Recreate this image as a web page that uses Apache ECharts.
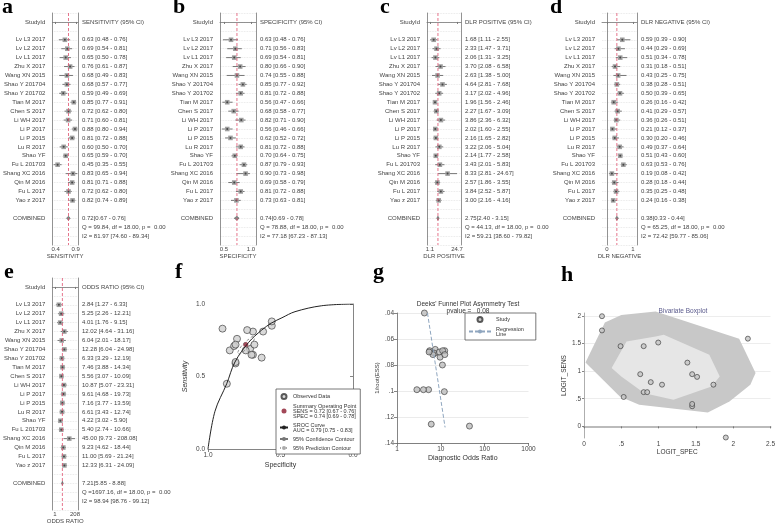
<!DOCTYPE html>
<html>
<head>
<meta charset="utf-8">
<script src="https://cdn.jsdelivr.net/npm/echarts@6.0.0/dist/echarts.min.js"></script>
<style>html,body{margin:0;padding:0;background:#fff}#chart{width:778px;height:529px}</style>
</head>
<body>
<div id="chart"></div>
<script>
// studies, same order in every forest plot
var studies = ['Lv L3 2017','Lv L2 2017','Lv L1 2017','Zhu X 2017','Wang XN 2015','Shao Y 201704','Shao Y 201702','Tian M 2017','Chen S 2017','Li WH 2017','Li P 2017','Li P 2015','Lu R 2017','Shao YF','Fu L 201703','Shang XC 2016','Qin M 2016','Fu L 2017','Yao z 2017'];

var sensEst = [0.63,0.69,0.65,0.76,0.68,0.68,0.59,0.85,0.72,0.71,0.88,0.81,0.60,0.65,0.45,0.83,0.81,0.72,0.82];
var sensLo  = [0.48,0.54,0.50,0.61,0.49,0.57,0.49,0.77,0.62,0.60,0.80,0.72,0.50,0.59,0.35,0.65,0.71,0.62,0.74];
var sensHi  = [0.76,0.81,0.78,0.87,0.83,0.77,0.69,0.91,0.80,0.81,0.94,0.88,0.70,0.70,0.55,0.94,0.88,0.80,0.89];

var specEst = [0.63,0.71,0.69,0.80,0.74,0.85,0.81,0.56,0.68,0.82,0.56,0.62,0.81,0.70,0.87,0.90,0.69,0.81,0.73];
var specLo  = [0.48,0.56,0.54,0.66,0.55,0.77,0.72,0.47,0.58,0.71,0.46,0.52,0.72,0.64,0.79,0.73,0.58,0.72,0.63];
var specHi  = [0.76,0.83,0.81,0.90,0.88,0.92,0.88,0.66,0.77,0.90,0.66,0.72,0.88,0.75,0.93,0.98,0.79,0.88,0.81];

var plrEst = [1.68,2.33,2.06,3.70,2.63,4.64,3.17,1.96,2.27,3.86,2.02,2.16,3.22,2.14,3.43,8.33,2.57,3.84,3.00];
var plrLo  = [1.11,1.47,1.31,2.08,1.38,2.81,2.02,1.56,1.67,2.36,1.60,1.65,2.06,1.77,2.01,2.81,1.86,2.52,2.16];
var plrHi  = [2.55,3.71,3.25,6.58,5.00,7.68,4.96,2.46,3.09,6.32,2.55,2.82,5.04,2.58,5.83,24.67,3.55,5.87,4.16];

var nlrEst = [0.59,0.44,0.51,0.31,0.43,0.38,0.50,0.26,0.41,0.36,0.21,0.30,0.49,0.51,0.63,0.19,0.28,0.35,0.24];
var nlrLo  = [0.39,0.29,0.34,0.18,0.25,0.28,0.39,0.16,0.29,0.26,0.12,0.20,0.37,0.43,0.53,0.08,0.18,0.25,0.16];
var nlrHi  = [0.90,0.69,0.78,0.51,0.75,0.51,0.65,0.42,0.57,0.51,0.37,0.46,0.64,0.60,0.76,0.42,0.44,0.48,0.38];

var dorEst = [2.84,5.25,4.01,12.02,6.04,12.28,6.33,7.46,5.56,10.87,9.61,7.16,6.61,4.22,5.40,45.00,9.23,11.00,12.33];
var dorLo  = [1.27,2.26,1.76,4.64,2.01,6.04,3.29,3.88,3.07,5.07,4.68,3.77,3.43,3.02,2.74,9.73,4.62,5.69,6.31];
var dorHi  = [6.33,12.21,9.15,31.16,18.17,24.98,12.19,14.34,10.09,23.31,19.73,13.59,12.74,5.90,10.66,208.08,18.44,21.24,24.09];

// pooled estimate [est, lo, hi] and heterogeneity lines
var pooledSens = [0.72,0.67,0.76], hetSens = ['Q = 99.84, df = 18.00, p =  0.00','I2 = 81.97 [74.60 - 89.34]'];
var pooledSpec = [0.74,0.69,0.78], hetSpec = ['Q = 78.88, df = 18.00, p =  0.00','I2 = 77.18 [67.23 - 87.13]'];
var pooledPlr  = [2.75,2.40,3.15], hetPlr  = ['Q = 44.13, df = 18.00, p =  0.00','I2 = 59.21 [38.60 - 79.82]'];
var pooledNlr  = [0.38,0.33,0.44], hetNlr  = ['Q = 65.25, df = 18.00, p =  0.00','I2 = 72.42 [59.77 - 85.06]'];
var pooledDor  = [7.21,5.85,8.88], hetDor  = ['Q =1697.16, df = 18.00, p =  0.00','I2 = 98.94 [98.76 - 99.12]'];

// SROC curve: [specificity, sensitivity]
var srocCurve = [[1.0,0.0],[0.952,0.26],[0.871,0.45],[0.814,0.60],[0.72,0.735],[0.63,0.82],[0.56,0.87],[0.49,0.905],[0.40,0.947],[0.216,0.988],[0.0,1.0]];
var summaryPoint = [0.74, 0.72];
var confContour = [[0.795,0.665],[0.78,0.695],[0.75,0.73],[0.715,0.76],[0.69,0.775],[0.68,0.765],[0.695,0.735],[0.725,0.70],[0.76,0.67],[0.785,0.655],[0.795,0.665]];

// Deeks funnel: 1/root(ESS) per study, regression line ends
var essInv = [0.099,0.099,0.099,0.1005,0.1255,0.069,0.070,0.068,0.069,0.080,0.074,0.071,0.072,0.040,0.070,0.127,0.070,0.069,0.072];
var regLine = [[4.96,0.04],[12.5,0.128]];

// bivariate boxplot
var logitSens = [0.532,0.800,0.619,1.153,0.754,0.754,0.364,1.735,0.944,0.895,1.992,1.450,0.405,0.619,-0.201,1.586,1.450,0.944,1.516];
var logitSpec = [0.532,0.895,0.800,1.386,1.046,1.735,1.450,0.241,0.754,1.516,0.241,0.490,1.450,0.847,1.901,2.197,0.800,1.450,0.995];
var outerHull = [[0.02,1.155],[0.28,1.877],[0.5,2.016],[0.96,2.076],[2.08,1.583],[2.30,0.964],[2.23,0.753],[1.95,0.45],[1.66,0.253],[0.74,0.392],[0.48,0.54]];
var innerHull = [[0.37,1.054],[0.57,1.534],[0.96,1.625],[1.07,1.655],[1.68,1.294],[1.82,0.90],[1.71,0.72],[1.20,0.48],[0.81,0.60],[0.5,0.90]];

var FONT = 'Liberation Sans';
var grids = [], xAxes = [], yAxes = [], series = [];

function f2(v) { return v.toFixed(2); }

function addForest(c) {
    var g = grids.length;
    grids.push({left: c.left, top: c.top + 13, width: c.right - c.left, height: 232});
    var leftText = {0: 'StudyId', 22: 'COMBINED'};
    var rightText = {0: c.header + ' (95% CI)'};
    studies.forEach(function (s, i) {
        leftText[i + 2] = s;
        rightText[i + 2] = f2(c.est[i]) + ' [' + f2(c.lo[i]) + ' - ' + f2(c.hi[i]) + ']';
    });
    rightText[22] = f2(c.pooled[0]) + '[' + f2(c.pooled[1]) + ' - ' + f2(c.pooled[2]) + ']';
    rightText[23] = c.het[0];
    rightText[24] = c.het[1];

    xAxes.push({
        gridIndex: g, type: c.log ? 'log' : 'value', min: c.min, max: c.max,
        axisLine: {show: true, lineStyle: {color: '#777', width: 0.8}},
        axisTick: {show: true, customValues: c.ticks, length: 2, lineStyle: {color: '#777'}},
        axisLabel: {customValues: c.ticks, fontSize: 6, margin: 1, color: '#444', fontFamily: FONT, formatter: c.fmt},
        splitLine: {show: false},
        name: c.header, nameLocation: 'middle', nameGap: 8,
        nameTextStyle: {fontSize: 6, color: '#444', fontFamily: FONT}
    });
    var yl = yAxes.length;
    var common = {gridIndex: g, type: 'value', min: -1, max: 25, interval: 1, inverse: true,
        axisLine: {show: true, lineStyle: {color: '#777', width: 0.8}}, axisTick: {show: false}};
    yAxes.push(Object.assign({}, common, {
        position: 'left',
        splitLine: {show: true, lineStyle: {color: '#e2e2e2', type: 'dotted', width: 0.8}},
        axisLabel: {margin: 7, fontSize: 6, color: '#444', fontFamily: FONT,
            formatter: function (v) { return leftText[Math.round(v)] || ''; }}
    }));
    yAxes.push(Object.assign({}, common, {
        position: 'right', splitLine: {show: false},
        axisLabel: {margin: 4, fontSize: 6, color: '#444', fontFamily: FONT,
            formatter: function (v) { return rightText[Math.round(v)] || ''; }}
    }));

    var rows = c.est.map(function (e, i) { return [e, c.lo[i], c.hi[i], i + 2]; });
    series.push({
        type: 'custom', xAxisIndex: g, yAxisIndex: yl, data: rows, encode: {x: [0, 1, 2], y: 3},
        renderItem: function (params, api) {
            var y = api.value(3);
            var p = api.coord([api.value(0), y]);
            var a = api.coord([api.value(1), y]);
            var b = api.coord([api.value(2), y]);
            return {type: 'group', children: [
                {type: 'line', shape: {x1: a[0], y1: a[1], x2: b[0], y2: b[1]}, style: {stroke: '#555', lineWidth: 0.8}},
                {type: 'rect', shape: {x: p[0] - 2.3, y: p[1] - 2.3, width: 4.6, height: 4.6}, style: {fill: '#a0a0a0'}},
                {type: 'circle', shape: {cx: p[0], cy: p[1], r: 1}, style: {fill: '#444'}}
            ]};
        }
    });
    series.push({
        type: 'custom', xAxisIndex: g, yAxisIndex: yl, data: [[c.pooled[0], c.pooled[1], c.pooled[2], 22]], encode: {x: [0, 1, 2], y: 3},
        renderItem: function (params, api) {
            var y = api.value(3);
            var p = api.coord([api.value(0), y]);
            var a = api.coord([api.value(1), y]);
            var b = api.coord([api.value(2), y]);
            return {type: 'polygon', shape: {points: [[a[0], p[1]], [p[0], p[1] - 2], [b[0], p[1]], [p[0], p[1] + 2]]},
                style: {fill: '#888', stroke: '#555', lineWidth: 0.6}};
        }
    });
    series.push({
        type: 'line', xAxisIndex: g, yAxisIndex: yl, symbol: 'none', silent: true,
        data: [[c.pooled[0], -1], [c.pooled[0], 25]],
        lineStyle: {color: '#e0506e', width: 0.8, type: [3, 2]}
    });
}

addForest({left: 45, right: 78, top: 0, min: 0.32, max: 0.955, ticks: [0.4, 0.9], fmt: function (v) { return v.toFixed(1); },
    header: 'SENSITIVITY', est: sensEst, lo: sensLo, hi: sensHi, pooled: pooledSens, het: hetSens});
addForest({left: 220, right: 256, top: 0, min: 0.426, max: 1.093, ticks: [0.5, 1.0], fmt: function (v) { return v.toFixed(1); },
    header: 'SPECIFICITY', est: specEst, lo: specLo, hi: specHi, pooled: pooledSpec, het: hetSpec});
addForest({left: 427, right: 461, top: 0, log: true, min: 0.78, max: 39, ticks: [1.1, 24.7], fmt: function (v) { return String(+v.toFixed(1)); },
    header: 'DLR POSITIVE', est: plrEst, lo: plrLo, hi: plrHi, pooled: pooledPlr, het: hetPlr});
addForest({left: 602, right: 637, top: 0, min: -0.19, max: 1.154, ticks: [0, 1], fmt: function (v) { return String(Math.round(v)); },
    header: 'DLR NEGATIVE', est: nlrEst, lo: nlrLo, hi: nlrHi, pooled: pooledNlr, het: hetNlr});
addForest({left: 45, right: 78, top: 265, log: true, min: 0.5, max: 463, ticks: [1, 208], fmt: function (v) { return String(Math.round(v)); },
    header: 'ODDS RATIO', est: dorEst, lo: dorLo, hi: dorHi, pooled: pooledDor, het: hetDor});

var axisGray = {color: '#666', width: 0.8};
var tickText = {fontSize: 6.5, color: '#444', fontFamily: FONT};

// f: SROC
var gf = grids.length, yf = yAxes.length;
grids.push({left: 208, top: 304, width: 145, height: 145});
xAxes.push({gridIndex: gf, type: 'value', min: 0, max: 1, interval: 0.5, inverse: true,
    axisLine: {lineStyle: axisGray}, axisTick: {length: 3, lineStyle: axisGray}, splitLine: {show: false},
    axisLabel: Object.assign({margin: 3, formatter: function (v) { return v.toFixed(1); }}, tickText),
    name: 'Specificity', nameLocation: 'middle', nameGap: 13, nameTextStyle: {fontSize: 7, color: '#333', fontFamily: FONT}});
yAxes.push({gridIndex: gf, type: 'value', min: 0, max: 1, interval: 0.5,
    axisLine: {show: true, lineStyle: axisGray}, axisTick: {show: true, length: 3, lineStyle: axisGray}, splitLine: {show: false},
    axisLabel: Object.assign({margin: 3, formatter: function (v) { return v.toFixed(1); }}, tickText),
    name: 'Sensitivity', nameLocation: 'middle', nameGap: 19, nameTextStyle: {fontSize: 7, color: '#333', fontFamily: FONT, fontStyle: 'italic'}});

var nameObs = 'Observed Data';
var nameSum = 'Summary Operating Point\nSENS = 0.72 [0.67 - 0.76]\nSPEC = 0.74 [0.69 - 0.78]';
var nameSroc = 'SROC Curve\nAUC = 0.79 [0.75 - 0.83]';
var nameConf = '95% Confidence Contour';
var namePred = '95% Prediction Contour';
series.push({name: nameSroc, type: 'line', xAxisIndex: gf, yAxisIndex: yf, data: srocCurve, smooth: 0.35, symbol: 'none',
    lineStyle: {color: '#222', width: 1}, itemStyle: {color: '#222'}});
series.push({name: nameConf, type: 'line', xAxisIndex: gf, yAxisIndex: yf, data: confContour, smooth: true, symbol: 'none',
    lineStyle: {color: '#777', width: 0.8, type: [3, 2]}, itemStyle: {color: '#777'}});
series.push({name: namePred, type: 'line', xAxisIndex: gf, yAxisIndex: yf, data: [], symbol: 'none',
    lineStyle: {color: '#aaa', width: 0.8, type: [1, 2]}, itemStyle: {color: '#aaa'}});
series.push({name: nameObs, type: 'scatter', xAxisIndex: gf, yAxisIndex: yf, symbolSize: 7,
    data: specEst.map(function (s, i) { return [s, sensEst[i]]; }),
    itemStyle: {color: '#cfcfcf', borderColor: '#333', borderWidth: 0.8}});
series.push({name: nameSum, type: 'scatter', xAxisIndex: gf, yAxisIndex: yf, symbolSize: 5, data: [summaryPoint],
    itemStyle: {color: '#8b1a2e'}});

// g: Deeks funnel
var gg = grids.length, yg = yAxes.length;
grids.push({left: 397, top: 313, width: 131.5, height: 130});
xAxes.push({gridIndex: gg, type: 'log', min: 1, max: 1000, logBase: 10,
    axisLine: {lineStyle: axisGray}, axisTick: {length: 3, lineStyle: axisGray}, splitLine: {show: false},
    axisLabel: Object.assign({margin: 3, formatter: function (v) { return String(Math.round(v)); }}, tickText),
    name: 'Diagnostic Odds Ratio', nameLocation: 'middle', nameGap: 12, nameTextStyle: {fontSize: 7, color: '#333', fontFamily: FONT}});
yAxes.push({gridIndex: gg, type: 'value', min: 0.04, max: 0.14, interval: 0.02, inverse: true,
    axisLine: {show: true, lineStyle: axisGray}, axisTick: {show: true, length: 3, lineStyle: axisGray},
    splitLine: {show: true, lineStyle: {color: '#e6e6e6', width: 0.8}},
    axisLabel: Object.assign({margin: 3, formatter: function (v) { return v.toFixed(2).replace(/0$/, '').replace(/^0/, ''); }}, tickText),
    name: '1/root(ESS)', nameLocation: 'middle', nameGap: 17, nameTextStyle: {fontSize: 6, color: '#333', fontFamily: FONT}});
series.push({name: 'Study', type: 'scatter', xAxisIndex: gg, yAxisIndex: yg, symbolSize: 6,
    data: dorEst.map(function (d, i) { return [d, essInv[i]]; }),
    itemStyle: {color: '#bdbdbd', borderColor: '#333', borderWidth: 0.8}});
series.push({name: 'Regression\nLine', type: 'line', xAxisIndex: gg, yAxisIndex: yg, data: regLine, symbol: 'none',
    lineStyle: {color: '#8fa6bf', width: 1, type: [4, 2]}, itemStyle: {color: '#8fa6bf'}});

// h: bivariate boxplot
var gh = grids.length, yh = yAxes.length;
grids.push({left: 584, top: 313, width: 189, height: 125});
xAxes.push({gridIndex: gh, type: 'value', min: 0, max: 2.5, interval: 0.5,
    axisLine: {lineStyle: {color: '#bbb', width: 2}}, axisTick: {length: 2, lineStyle: axisGray}, splitLine: {show: false},
    axisLabel: Object.assign({margin: 3, formatter: function (v) { return String(v).replace(/^0\./, '.'); }}, tickText),
    name: 'LOGIT_SPEC', nameLocation: 'middle', nameGap: 11, nameTextStyle: {fontSize: 6.5, color: '#333', fontFamily: FONT}});
yAxes.push({gridIndex: gh, type: 'value', min: -0.21, max: 2.05,
    axisLine: {show: true, lineStyle: {color: '#999', width: 0.8}},
    axisTick: {show: true, customValues: [0, 0.5, 1, 1.5, 2], length: 2, lineStyle: axisGray},
    splitLine: {show: true, lineStyle: {color: '#e8e8e8', width: 0.8}},
    axisLabel: Object.assign({margin: 3, customValues: [0, 0.5, 1, 1.5, 2], formatter: function (v) { return String(v).replace(/^0\./, '.'); }}, tickText),
    name: 'LOGIT_SENS', nameLocation: 'middle', nameGap: 15, nameTextStyle: {fontSize: 6.5, color: '#333', fontFamily: FONT}});

function hullSeries(pts, fill) {
    return {type: 'custom', xAxisIndex: gh, yAxisIndex: yh, data: pts, encode: {x: 0, y: 1}, silent: true,
        renderItem: function (params, api) {
            if (params.dataIndex !== 0) return null;
            return {type: 'polygon', shape: {points: pts.map(function (p) { return api.coord(p); })}, style: {fill: fill}};
        }};
}
series.push(hullSeries(outerHull, '#c8c8c8'));
series.push(hullSeries(innerHull, '#e6e6e6'));
series.push({type: 'scatter', xAxisIndex: gh, yAxisIndex: yh, symbolSize: 5,
    data: logitSpec.map(function (s, i) { return [s, logitSens[i]]; }),
    itemStyle: {color: '#c4c4c4', borderColor: '#333', borderWidth: 0.8}});

var letters = [['a', 2, -4], ['b', 173, -4], ['c', 380, -4], ['d', 550, -4], ['e', 4, 261], ['f', 175, 261], ['g', 373, 261], ['h', 561, 264]];

var option = {
    animation: false,
    textStyle: {fontFamily: FONT},
    title: [
        {text: "Deeks' Funnel Plot Asymmetry Test\npvalue =   0.08", left: 463, top: 296, textAlign: 'center',
            textStyle: {fontSize: 6.5, fontWeight: 'normal', color: '#333', lineHeight: 7, fontFamily: FONT}},
        {text: 'Bivariate Boxplot', left: 678, top: 303, textAlign: 'center',
            textStyle: {fontSize: 6.5, fontWeight: 'normal', color: '#5a5a8c', fontFamily: FONT}}
    ],
    legend: [
        {left: 276, top: 389, orient: 'vertical', itemWidth: 8, itemHeight: 5, itemGap: 3, selectedMode: false,
            padding: [4, 4, 3, 3], borderColor: '#555', borderWidth: 0.8, backgroundColor: '#fff',
            textStyle: {fontSize: 5.5, lineHeight: 5, color: '#333', fontFamily: FONT},
            data: [nameObs, nameSum, nameSroc, nameConf, namePred]},
        {left: 465, top: 313, orient: 'vertical', itemWidth: 22, itemHeight: 5, itemGap: 3, selectedMode: false,
            padding: [3, 12, 3, 3], borderColor: '#555', borderWidth: 0.8, backgroundColor: '#fff',
            textStyle: {fontSize: 5.5, lineHeight: 5, color: '#333', fontFamily: FONT},
            data: ['Study', 'Regression\nLine']}
    ],
    grid: grids,
    xAxis: xAxes,
    yAxis: yAxes,
    series: series,
    graphic: letters.map(function (l) {
        return {type: 'text', left: l[1], top: l[2], silent: true,
            style: {text: l[0], font: 'bold 22px "Liberation Serif"', fill: '#000'}};
    })
};

var chart = echarts.init(document.getElementById('chart'));
chart.setOption(option);
</script>
</body>
</html>
